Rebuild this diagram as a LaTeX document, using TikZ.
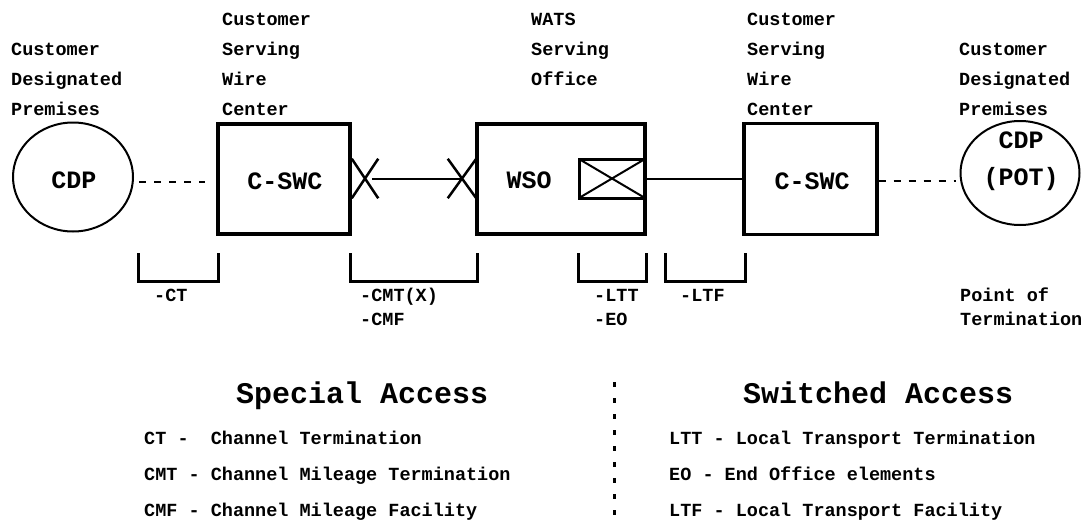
\documentclass[tikz,border=0pt]{standalone}
\usepackage{fontspec}
\setmainfont{Liberation Mono}
\usetikzlibrary{shapes.geometric,shapes.misc}
\begin{document}
\begin{tikzpicture}[x=1pt,y=-1pt,
  lbl/.style={anchor=base west,inner sep=0pt,font=\fontsize{18.5}{20}\selectfont\bfseries},
  ntxt/.style={anchor=base,inner sep=0pt,font=\fontsize{25}{27}\selectfont\bfseries},
  ttl/.style={anchor=base west,inner sep=0pt,font=\fontsize{30}{32}\selectfont\bfseries},
  office/.style={draw,line width=3.2pt,rectangle,inner sep=0pt},
  prem/.style={draw,line width=2pt,ellipse,inner sep=0pt},
  xmark/.style={draw,cross out,line width=2.5pt,inner sep=0pt,minimum width=24pt,minimum height=37pt},
  link/.style={line width=2pt},
  dashlink/.style={line width=2.5pt,dash pattern=on 7pt off 8pt},
  bracket/.style={line width=3pt},
  divider/.style={line width=3pt,dash pattern=on 5pt off 11pt}]
\useasboundingbox (0,0) rectangle (1082,522);

% top labels
\node[lbl] (l1a) at (11,55) {Customer};
\node[lbl] (l1b) at (11,85) {Designated};
\node[lbl] (l1c) at (11,115) {Premises};
\node[lbl] (l2a) at (222,25) {Customer};
\node[lbl] (l2b) at (222,55) {Serving};
\node[lbl] (l2c) at (222,85) {Wire};
\node[lbl] (l2d) at (222,115) {Center};
\node[lbl] (l3a) at (531,25) {WATS};
\node[lbl] (l3b) at (531,55) {Serving};
\node[lbl] (l3c) at (531,85) {Office};
\node[lbl] (l4a) at (747,25) {Customer};
\node[lbl] (l4b) at (747,55) {Serving};
\node[lbl] (l4c) at (747,85) {Wire};
\node[lbl] (l4d) at (747,115) {Center};
\node[lbl] (l5a) at (959,55) {Customer};
\node[lbl] (l5b) at (959,85) {Designated};
\node[lbl] (l5c) at (959,115) {Premises};

% main nodes
\node[prem,minimum width=120pt,minimum height=109pt] (cdpL) at (73,177) {};
\node[ntxt] (cdpLt) at (74,188) {CDP};
\node[office,minimum width=132pt,minimum height=110pt] (cswcL) at (284,179) {};
\node[ntxt] (cswcLt) at (285,189.5) {C-SWC};
\node[office,minimum width=168pt,minimum height=110pt] (wso) at (561,179) {};
\node[ntxt] (wsot) at (529,188) {WSO};
\node[draw,line width=3pt,inner sep=0pt,outer sep=0pt,minimum width=66pt,minimum height=39pt] (sw) at (612,178.5) {};
\draw[line width=2pt] (sw.north west) -- (sw.south east) (sw.south west) -- (sw.north east);
\node[office,minimum width=133pt,minimum height=111pt] (cswcR) at (810.5,179) {};
\node[ntxt] (cswcRt) at (812,189) {C-SWC};
\node[prem,minimum width=119pt,minimum height=104pt] (cdpR) at (1020,173) {};
\node[ntxt] (cdpRt) at (1021,148) {CDP};
\node[ntxt] (potRt) at (1021,185) {(POT)};

% cross marks
\node[xmark] (x1) at (365,178.5) {};
\node[xmark,minimum width=26pt] (x2) at (462,178.5) {};

% connectors
\draw[dashlink,shorten <=5pt,shorten >=11pt] ([yshift=-5pt]cdpL.east) -- ([yshift=-3pt]cswcL.west);
\draw[link] ([xshift=7pt]x1.center) -- (x2.center);
\draw[link] (sw.east) -- (sw.east -| cswcR.west);
\draw[dashlink,shorten >=4pt] ([yshift=-2pt]cswcR.east) -- ([yshift=-2pt]cswcR.east -| cdpR.west);

% brackets
\draw[bracket] (138,253) -- (138,281) -- (218,281) -- (218,253);
\draw[bracket] (350,253) -- (350,281) -- (477,281) -- (477,253);
\draw[bracket] (578,253) -- (578,281) -- (646,281) -- (646,253);
\draw[bracket] (665,253) -- (665,281) -- (745,281) -- (745,253);

% bracket labels
\node[lbl] (bct) at (154,301) {-CT};
\node[lbl] (bcmt) at (360,301) {-CMT(X)};
\node[lbl] (bcmf) at (360,325) {-CMF};
\node[lbl] (bltt) at (594,301) {-LTT};
\node[lbl] (beo) at (594,325) {-EO};
\node[lbl] (bltf) at (680,301) {-LTF};
\node[lbl] (pot1) at (960,301) {Point of};
\node[lbl] (pot2) at (960,325) {Termination};

% legend
\node[ttl] (tsa) at (236,403) {Special Access};
\node[ttl] (tsw) at (743,403) {Switched Access};
\node[lbl] (s1) at (144,444) {CT -\ \ Channel Termination};
\node[lbl] (s2) at (144,480) {CMT - Channel Mileage Termination};
\node[lbl] (s3) at (144,516) {CMF - Channel Mileage Facility};
\node[lbl] (w1) at (669,444) {LTT - Local Transport Termination};
\node[lbl] (w2) at (669,480) {EO - End Office elements};
\node[lbl] (w3) at (669,516) {LTF - Local Transport Facility};

\draw[divider] (614,382) -- (614,522);
\end{tikzpicture}
\end{document}
